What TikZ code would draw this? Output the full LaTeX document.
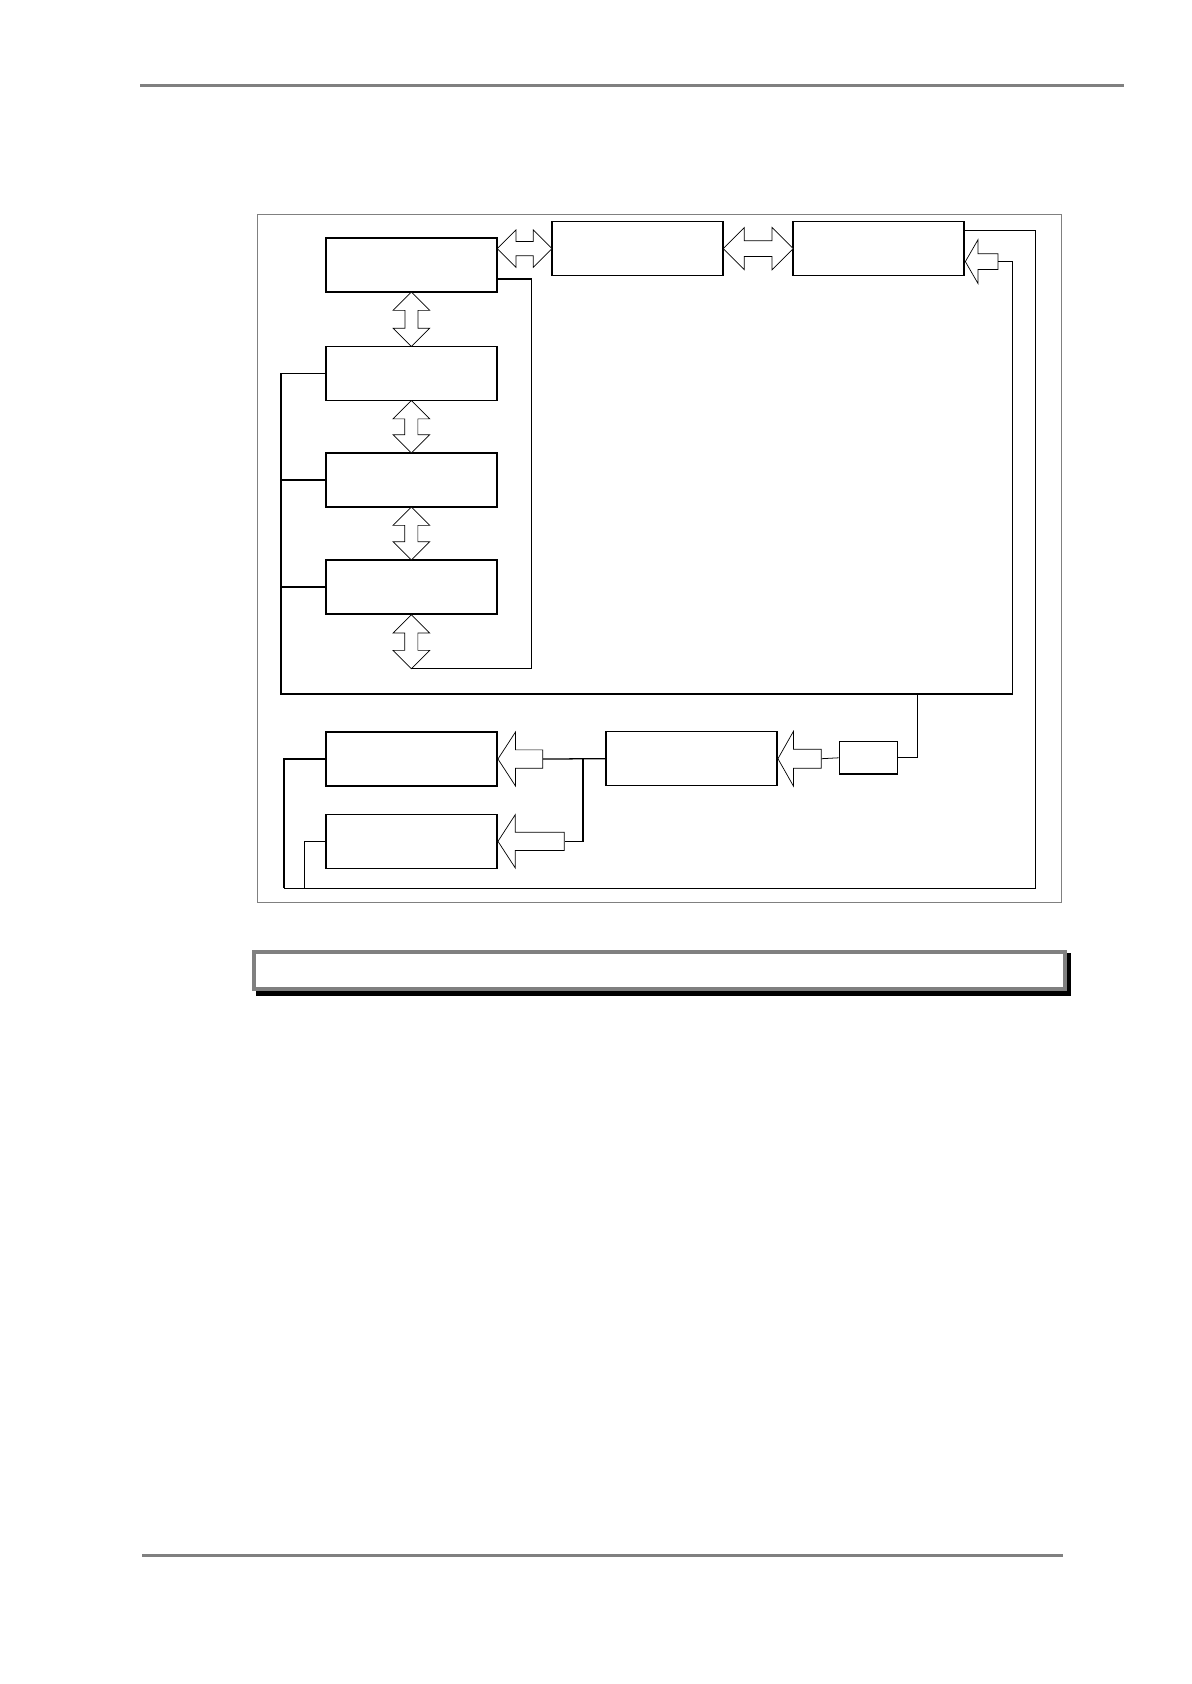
\documentclass[tikz,border=0pt]{standalone}
\usetikzlibrary{shapes.arrows,calc}

\def\px{0.025cm}

\tikzset{
  blocco/.style={draw, line width=1.05pt, minimum width=171*\px, minimum height=54*\px, inner sep=0pt},
  dfreccia/.style={double arrow, draw, fill=white, line width=0.5pt, minimum width=0pt},
  sfreccia/.style={single arrow, draw, fill=white, line width=0.5pt, minimum width=0pt, shape border rotate=180},
  linea/.style={line width=0.9pt},
  sottile/.style={line width=0.55pt},
  grigio/.style={draw=gray, line width=0.85pt}
}

\begin{document}
\begin{tikzpicture}[x=\px, y=-\px]

  % Dimensioni della pagina
  \useasboundingbox (0,0) rectangle (1191,1684);

  % Righe di testata e di piede
  \draw[gray, line width=2.1pt] (140,85.3) -- (1123.7,85.3);
  \draw[gray, line width=2.1pt] (142,1555.7) -- (1062.7,1555.7);

  % Cornice della figura
  \draw[grigio] (257.3,214.7) rectangle (1061.7,902.7);

  % Blocchi della colonna sinistra
  \node[blocco] (A) at (411.6,265) {};
  \node[blocco] (C) at (411.3,373.5) {};
  \node[blocco] (D) at (411.3,480) {};
  \node[blocco] (E) at (411.3,587) {};

  % Blocchi in alto
  \node[blocco] (B) at (637.6,248.6) {};
  \node[blocco] (F) at (878.7,248.6) {};

  % Blocchi in basso
  \node[blocco] (G) at (411.3,759) {};
  \node[blocco] (H) at (411.3,841.3) {};
  \node[blocco] (I) at (691.3,758.7) {};
  \node[blocco, minimum width=58*\px, minimum height=32.3*\px] (J) at (868.3,757.8) {};

  % Frecce doppie verticali
  \coordinate (etip) at ($(E.south)+(0,54)$);
  \node[dfreccia, shape border rotate=90, inner sep=6.2*\px, double arrow head extend=11.8*\px,
        minimum height=54.5*\px] (ac) at ($(A.south)!.5!(C.north)$) {};
  \node[dfreccia, shape border rotate=90, inner sep=6.2*\px, double arrow head extend=11.8*\px,
        minimum height=52.5*\px] (cd) at ($(C.south)!.5!(D.north)$) {};
  \node[dfreccia, shape border rotate=90, inner sep=6.2*\px, double arrow head extend=11.8*\px,
        minimum height=53*\px] (de) at ($(D.south)!.5!(E.north)$) {};
  \node[dfreccia, shape border rotate=90, inner sep=6.2*\px, double arrow head extend=11.8*\px,
        minimum height=54*\px] (ee) at ($(E.south)!.5!(etip)$) {};

  % Frecce doppie orizzontali
  \node[dfreccia, inner sep=6.7*\px, double arrow head extend=11.6*\px,
        minimum height=54.6*\px] (ab) at ($(A.east|-B.west)!.5!(B.west)$) {};
  \node[dfreccia, inner sep=7.6*\px, double arrow head extend=13.2*\px,
        minimum height=70*\px] (bf) at ($(B.east)!.5!(F.west)$) {};

  % Frecce singole
  \node[sfreccia, anchor=tip, inner sep=7.6*\px, single arrow head extend=13.9*\px,
        single arrow tip angle=120, minimum height=32.6*\px] (farr) at ($(F.east)+(0,13)$) {};
  \node[sfreccia, anchor=tip, inner sep=8.8*\px, single arrow head extend=17.7*\px,
        single arrow tip angle=114, minimum height=44.7*\px] (garr) at (G.east) {};
  \node[sfreccia, anchor=tip, inner sep=8.8*\px, single arrow head extend=17.6*\px,
        single arrow tip angle=114, minimum height=66.3*\px] (harr) at (H.east) {};
  \node[sfreccia, anchor=tip, inner sep=9.2*\px, single arrow head extend=17.8*\px,
        single arrow tip angle=121, minimum height=43.3*\px] (iarr) at (I.east) {};

  % Collegamento dal blocco A alla freccia in basso
  \draw[linea] ($(A.east)+(0,14)$) -- ++(34,0) |- (etip);

  % Anello di sinistra fino alla freccia di F
  \coordinate (loopbr) at (1012.3,694);
  \draw[linea] (C.west) -- ++(-44,0) |- (loopbr) |- (farr.tail);
  \draw[linea] (D.west) -- ++(-44,0);
  \draw[linea] (E.west) -- ++(-44,0);

  % Blocco J e freccia verso I
  \coordinate (tap) at (917.7,694);
  \draw[sottile] (J.east) -| (tap);
  \draw[sottile] (iarr.tail) -- (J.west);

  % Uscita di I verso G e H
  \coordinate (split) at ($(I.west)+(-22,0)$);
  \draw[linea] (I.west) -- (garr.tail);
  \draw[linea] (split) |- (harr.tail);

  % Ritorno da G e H verso F
  \coordinate (bl) at (284,888);
  \coordinate (hl) at (304.7,888);
  \coordinate (rb) at (1035,888);
  \draw[linea] (G.west) -| (bl);
  \draw[linea] (H.west) -| (hl);
  \draw[sottile] (bl) -- (rb) |- ($(F.east)+(0,-18)$);

  % Riquadro della didascalia con ombra
  \fill[black] (256,953.3) rectangle (1070.7,996);
  \node[draw=gray, fill=white, line width=2.8pt, minimum width=810.7*\px, minimum height=36.7*\px,
        inner sep=0pt] (cap) at (659.35,970.35) {};

\end{tikzpicture}
\end{document}
